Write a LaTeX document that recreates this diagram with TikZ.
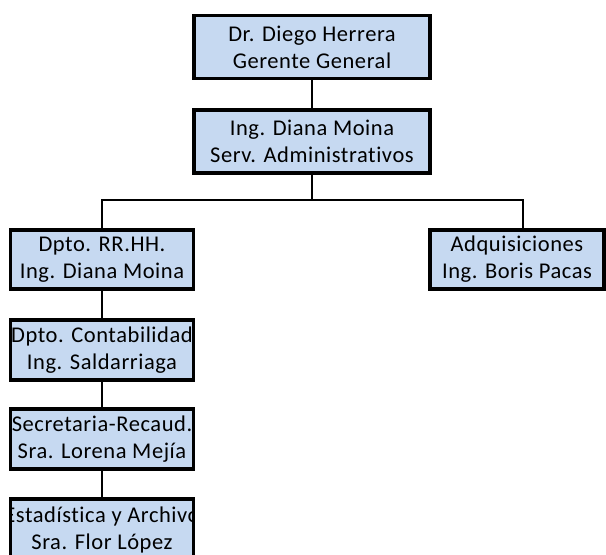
\documentclass[tikz,border=0pt]{standalone}
\usepackage{fontspec}
\setmainfont{Carlito}[LetterSpace=2.5, Ligatures=NoCommon]
\usetikzlibrary{backgrounds}
\definecolor{boxfill}{RGB}{198,217,241}
\newcommand{\boxfont}{\fontsize{22.5}{27}\selectfont}
\tikzset{
  orgbox/.style={rectangle, draw=black, line width=3.6pt, fill=boxfill,
    inner sep=0pt, align=center, font=\boxfont},
  link/.style={draw=black, line width=2pt},
}
\begin{document}
\begin{tikzpicture}[x=1pt, y=-1pt]
  \useasboundingbox (0,0) rectangle (606,555);
  \clip (0,0) rectangle (606,555);

  % top of the chart
  \node[orgbox, minimum width=236pt, minimum height=63pt] (gg) at (312,47)
    {Dr. Diego Herrera\\Gerente General};
  \node[orgbox, minimum width=236pt, minimum height=63pt] (sa) at (312,141.5)
    {Ing. Diana Moina\\Serv. Administrativos};

  % left column of departments
  \node[orgbox, minimum width=183pt, minimum height=59pt] (rh) at (102,259.5)
    {Dpto. RR.HH.\\Ing. Diana Moina};
  \node[orgbox, minimum width=183pt, minimum height=60pt] (ct) at (102,350)
    {Dpto. Contabilidad\\Ing. Saldarriaga};
  \node[orgbox, minimum width=183pt, minimum height=60pt] (sr) at (102,439)
    {Secretaria-Recaud.\\Sra. Lorena Mejía};
  \node[orgbox, minimum width=183pt, minimum height=60pt,
    path picture={\node[align=center, font=\boxfont]
      at ([yshift=-1pt]path picture bounding box.center)
      {Estadística y Archivo\\Sra. Flor López};}] (ea) at (102,529) {};

  % right branch
  \node[orgbox, minimum width=174pt, minimum height=59pt] (aq) at (517,259.5)
    {Adquisiciones\\Ing. Boris Pacas};

  \coordinate (hub) at (312,200);

  \begin{scope}[on background layer]
    \draw[link] (gg) -- (sa);
    \draw[link] (sa) -- (hub);
    \draw[link] (hub) -| (rh.north);
    \draw[link] (hub) -| ([xshift=6pt]aq.north);
    \draw[link] (rh) -- (ct);
    \draw[link] (ct) -- (sr);
    \draw[link] (sr) -- (ea);
  \end{scope}
\end{tikzpicture}
\end{document}
